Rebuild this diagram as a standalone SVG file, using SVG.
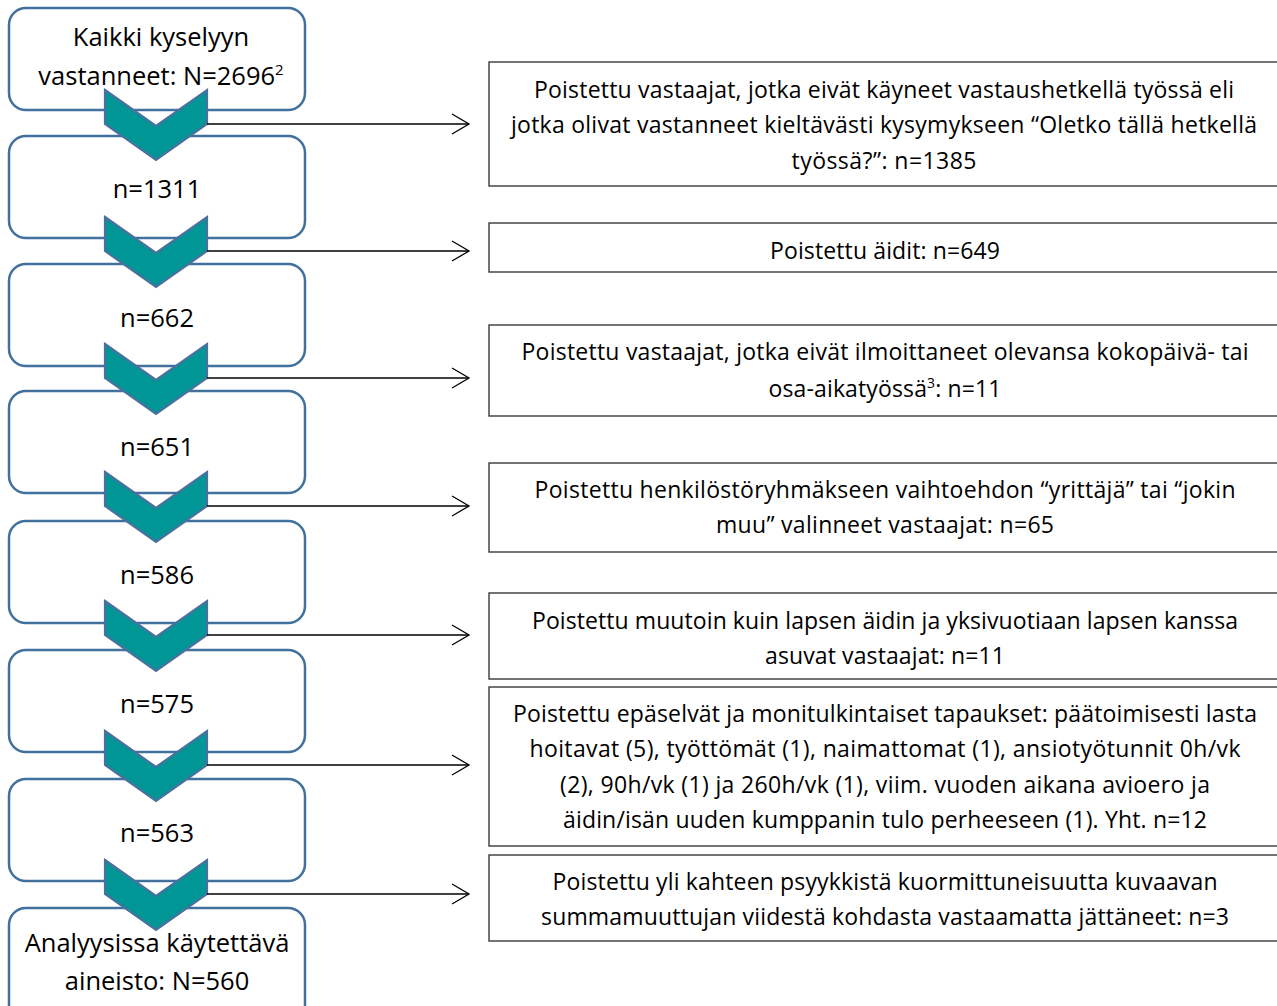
<svg xmlns="http://www.w3.org/2000/svg" width="1277" height="1006" viewBox="0 0 1277 1006">
<defs>
<style>
.lb{fill:#fff;stroke:#41719C;stroke-width:2.5}
.rb{fill:#fff;stroke:#3a3a3a;stroke-width:1.4}
.lt{font-family:"Open Sans","Noto Sans",sans-serif;font-size:25.5px;fill:#000;text-anchor:middle}
.rt{font-family:"Open Sans","Noto Sans",sans-serif;font-size:23px;fill:#000;text-anchor:middle}
.chev{fill:#009696;stroke:#4A70A0;stroke-width:2.2;stroke-linejoin:miter}
.ln{stroke:#000;stroke-width:1.3;fill:none}
</style>
<marker id="oa" markerWidth="20" markerHeight="24" refX="18" refY="11" orient="auto" markerUnits="userSpaceOnUse">
<path d="M1,1 L18,11 L1,21" fill="none" stroke="#000" stroke-width="1.3"/>
</marker>
<polygon id="cv" points="105,0 156,36 207,0 207,34 156,70 105,34"/>
</defs>
<rect width="1277" height="1006" fill="#fff"/>

<g id="n1"><rect class="lb" x="9" y="8" width="296" height="102" rx="17"/>
<text class="lt" x="161" y="46">Kaikki kyselyyn</text>
<text class="lt" x="161" y="85">vastanneet: N=2696<tspan dy="-10" font-size="15">2</tspan></text></g>
<g id="n2"><rect class="lb" x="9" y="136" width="296" height="102" rx="17"/><text class="lt" x="157" y="198">n=1311</text></g>
<g id="n3"><rect class="lb" x="9" y="264" width="296" height="102" rx="17"/><text class="lt" x="157" y="327">n=662</text></g>
<g id="n4"><rect class="lb" x="9" y="391" width="296" height="102" rx="17"/><text class="lt" x="157" y="456">n=651</text></g>
<g id="n5"><rect class="lb" x="9" y="521" width="296" height="102" rx="17"/><text class="lt" x="157" y="584">n=586</text></g>
<g id="n6"><rect class="lb" x="9" y="650" width="296" height="102" rx="17"/><text class="lt" x="157" y="713">n=575</text></g>
<g id="n7"><rect class="lb" x="9" y="779" width="296" height="102" rx="17"/><text class="lt" x="157" y="842">n=563</text></g>
<g id="n8"><rect class="lb" x="9" y="908" width="296" height="120" rx="17"/>
<text class="lt" x="157" y="952">Analyysissa käytettävä</text>
<text class="lt" x="157" y="990">aineisto: N=560</text></g>

<g id="r1"><rect class="rb" x="489" y="62" width="800" height="124"/>
<text class="rt" x="884" y="98" textLength="700" lengthAdjust="spacing">Poistettu vastaajat, jotka eivät käyneet vastaushetkellä työssä eli</text>
<text class="rt" x="884" y="133" textLength="746" lengthAdjust="spacing">jotka olivat vastanneet kieltävästi kysymykseen “Oletko tällä hetkellä</text>
<text class="rt" x="884" y="169" textLength="185" lengthAdjust="spacing">työssä?”: n=1385</text></g>
<g id="r2"><rect class="rb" x="489" y="223" width="800" height="49"/>
<text class="rt" x="885" y="259" textLength="230" lengthAdjust="spacing">Poistettu äidit: n=649</text></g>
<g id="r3"><rect class="rb" x="489" y="325" width="800" height="91"/>
<text class="rt" x="885" y="360" textLength="727" lengthAdjust="spacing">Poistettu vastaajat, jotka eivät ilmoittaneet olevansa kokopäivä- tai</text>
<text class="rt" x="885" y="397" textLength="233" lengthAdjust="spacing">osa-aikatyössä<tspan dy="-9" font-size="14">3</tspan><tspan dy="9">: n=11</tspan></text></g>
<g id="r4"><rect class="rb" x="489" y="463" width="800" height="89"/>
<text class="rt" x="885" y="498" textLength="701" lengthAdjust="spacing">Poistettu henkilöstöryhmäkseen vaihtoehdon “yrittäjä” tai “jokin</text>
<text class="rt" x="885" y="533" textLength="338" lengthAdjust="spacing">muu” valinneet vastaajat: n=65</text></g>
<g id="r5"><rect class="rb" x="489" y="593" width="800" height="86"/>
<text class="rt" x="885" y="629" textLength="706" lengthAdjust="spacing">Poistettu muutoin kuin lapsen äidin ja yksivuotiaan lapsen kanssa</text>
<text class="rt" x="885" y="664" textLength="240" lengthAdjust="spacing">asuvat vastaajat: n=11</text></g>
<g id="r6"><rect class="rb" x="489" y="687" width="800" height="159"/>
<text class="rt" x="885" y="722" textLength="744" lengthAdjust="spacing">Poistettu epäselvät ja monitulkintaiset tapaukset: päätoimisesti lasta</text>
<text class="rt" x="885" y="757" textLength="711" lengthAdjust="spacing">hoitavat (5), työttömät (1), naimattomat (1), ansiotyötunnit 0h/vk</text>
<text class="rt" x="885" y="793" textLength="650" lengthAdjust="spacing">(2), 90h/vk (1) ja 260h/vk (1), viim. vuoden aikana avioero ja</text>
<text class="rt" x="885" y="828" textLength="644" lengthAdjust="spacing">äidin/isän uuden kumppanin tulo perheeseen (1). Yht. n=12</text></g>
<g id="r7"><rect class="rb" x="489" y="855" width="800" height="86"/>
<text class="rt" x="885" y="890" textLength="665" lengthAdjust="spacing">Poistettu yli kahteen psyykkistä kuormittuneisuutta kuvaavan</text>
<text class="rt" x="885" y="925" textLength="688" lengthAdjust="spacing">summamuuttujan viidestä kohdasta vastaamatta jättäneet: n=3</text></g>

<g id="connectors">
<use href="#cv" class="chev" y="90"/>
<use href="#cv" class="chev" y="217"/>
<use href="#cv" class="chev" y="344"/>
<use href="#cv" class="chev" y="472"/>
<use href="#cv" class="chev" y="601"/>
<use href="#cv" class="chev" y="731"/>
<use href="#cv" class="chev" y="860"/>
<line class="ln" x1="207" y1="124" x2="469" y2="124" marker-end="url(#oa)"/>
<line class="ln" x1="207" y1="251" x2="469" y2="251" marker-end="url(#oa)"/>
<line class="ln" x1="207" y1="378" x2="469" y2="378" marker-end="url(#oa)"/>
<line class="ln" x1="207" y1="506" x2="469" y2="506" marker-end="url(#oa)"/>
<line class="ln" x1="207" y1="635" x2="469" y2="635" marker-end="url(#oa)"/>
<line class="ln" x1="207" y1="765" x2="469" y2="765" marker-end="url(#oa)"/>
<line class="ln" x1="207" y1="894" x2="469" y2="894" marker-end="url(#oa)"/>
</g>
</svg>
